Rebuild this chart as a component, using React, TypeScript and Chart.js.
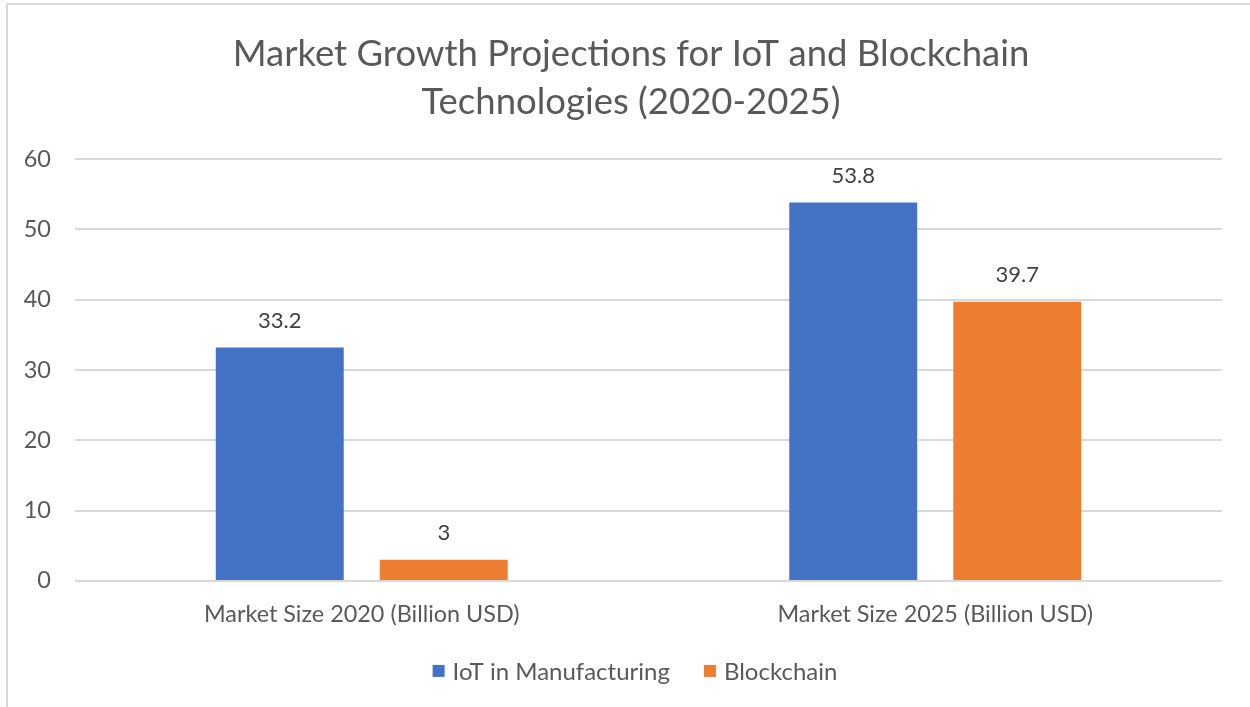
import React, { useEffect, useRef } from "react";
import { Chart, registerables } from "chart.js";

Chart.register(...registerables);

const categories = ["Market Size 2020 (Billion USD)", "Market Size 2025 (Billion USD)"];
const iotValues = [33.2, 53.8];
const blockchainValues = [3, 39.7];
const seriesNames = ["IoT in Manufacturing", "Blockchain"];
const seriesColors = ["#4472C4", "#ED7D31"];
const titleLines = ["Market Growth Projections for IoT and Blockchain", "Technologies (2020-2025)"];

const FONT = "Lato, 'Open Sans', sans-serif";
const TEXT = "#595959";

const dataLabels = {
  id: "dataLabels",
  afterDatasetsDraw(chart: any) {
    const ctx = chart.ctx;
    ctx.save();
    ctx.font = `22px ${FONT}`;
    ctx.fillStyle = "#404040";
    ctx.textAlign = "center";
    ctx.textBaseline = "middle";
    chart.data.datasets.forEach((ds: any, i: number) => {
      const meta = chart.getDatasetMeta(i);
      meta.data.forEach((bar: any, j: number) => {
        ctx.fillText(String(ds.data[j]), bar.x, bar.y - 27);
      });
    });
    ctx.restore();
  },
};

// Centre the title over the whole canvas (not the padded area)
const titleShift = {
  id: "titleShift",
  afterLayout(chart: any) {
    const tb = chart.titleBlock;
    if (tb) {
      const d = chart.width / 2 - (tb.left + tb.right) / 2;
      tb.left += d;
      tb.right += d;
    }
  },
};

// Excel-style legend below the x labels
const bottomLegend = {
  id: "bottomLegend",
  afterDraw(chart: any) {
    const ctx = chart.ctx;
    ctx.save();
    ctx.font = `24px ${FONT}`;
    ctx.textBaseline = "middle";
    ctx.textAlign = "left";
    const box = 12, boxGap = 8, itemGap = 34;
    const items = chart.data.datasets.map((ds: any) => ({
      text: ds.label,
      color: ds.backgroundColor,
      w: box + boxGap + ctx.measureText(ds.label).width,
    }));
    const total = items.reduce((a: number, it: any) => a + it.w, 0) + itemGap * (items.length - 1);
    let x = chart.width / 2 + 4 - total / 2;
    const y = chart.chartArea.bottom + 90;
    items.forEach((it: any) => {
      ctx.fillStyle = it.color;
      ctx.fillRect(x, y - box / 2, box, box);
      ctx.fillStyle = TEXT;
      ctx.fillText(it.text, x + box + boxGap, y + 1);
      x += it.w + itemGap;
    });
    ctx.restore();
  },
};

export default function App() {
  const ref = useRef<HTMLCanvasElement>(null);
  useEffect(() => {
    document.documentElement.style.overflow = "hidden";
    document.body.style.overflow = "hidden";
    const chart = new Chart(ref.current!, {
      type: "bar",
      data: {
        labels: categories,
        datasets: [
          { label: seriesNames[0], data: iotValues, backgroundColor: seriesColors[0], barPercentage: 0.78, categoryPercentage: 0.572 },
          { label: seriesNames[1], data: blockchainValues, backgroundColor: seriesColors[1], barPercentage: 0.78, categoryPercentage: 0.572 },
        ],
      },
      options: {
        animation: false,
        responsive: false,
        layout: { padding: { left: 0, right: 32, top: 25, bottom: 58 } },
        plugins: {
          title: {
            display: true,
            text: titleLines,
            color: TEXT,
            font: { family: FONT, size: 36.5, weight: "normal", lineHeight: 1.315 },
            padding: { top: 0, bottom: 33 },
          },
          legend: { display: false },
          tooltip: { enabled: false },
        },
        scales: {
          x: {
            grid: { display: false, drawTicks: false },
            border: { display: false },
            ticks: { color: TEXT, font: { family: FONT, size: 23.4 }, padding: 19 },
          },
          y: {
            min: 0,
            max: 60,
            ticks: { stepSize: 10, color: TEXT, font: { family: FONT, size: 23.5 }, padding: 24 },
            grid: { color: "#d9d9d9", lineWidth: 2, drawTicks: false },
            border: { display: false },
            afterFit: (s: any) => { s.width = 67; },
          },
        },
      },
      plugins: [dataLabels, titleShift, bottomLegend],
    });
    return () => chart.destroy();
  }, []);
  return (
    <div style={{ position: "absolute", left: 6, top: 3, width: 1246, height: 720, border: "2px solid #d9d9d9", background: "#fff" }}>
      <canvas ref={ref} width={1246} height={700} style={{ display: "block" }} />
    </div>
  );
}
